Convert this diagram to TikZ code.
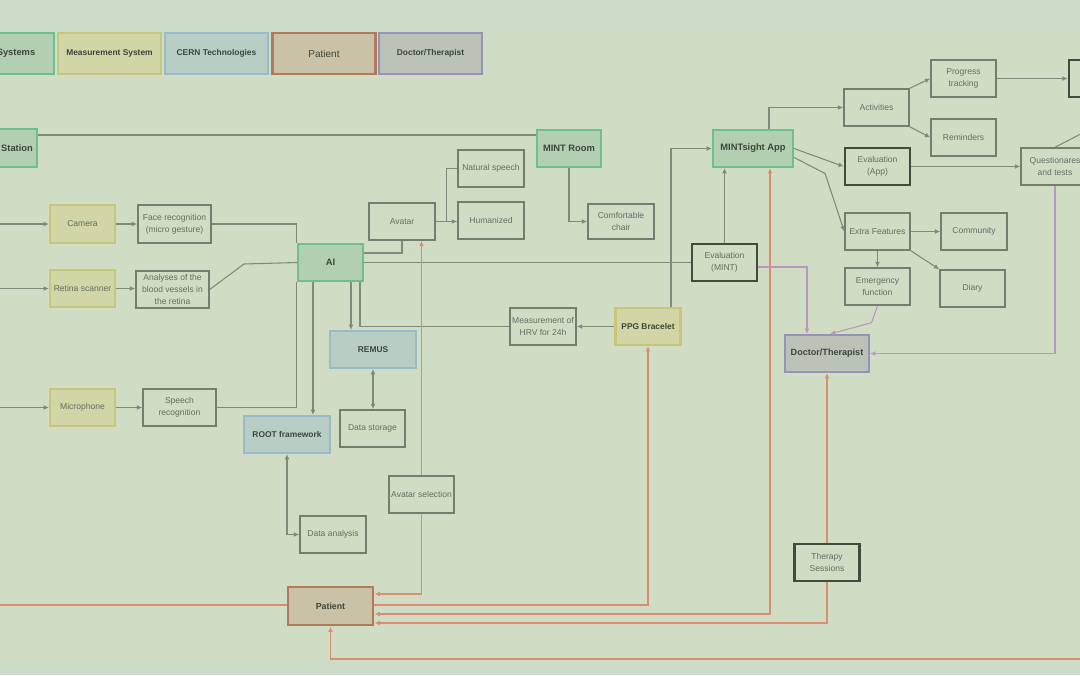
\documentclass[tikz,border=0pt]{standalone}
\usepackage{fontspec}
\setmainfont{Liberation Sans}
\usepackage{xcolor}
\usetikzlibrary{arrows.meta,calc}
\definecolor{bgOuter}{HTML}{CDDCC9}
\definecolor{canvas}{HTML}{D1DCC5}
\definecolor{boxline}{HTML}{727E70}
\definecolor{boxtext}{HTML}{646E62}
\definecolor{darkline}{HTML}{3F4C3E}
\definecolor{darktext}{HTML}{3D463B}
\definecolor{connline}{HTML}{7E8A7B}
\definecolor{coreFill}{HTML}{B2CFB4}
\definecolor{coreLine}{HTML}{6CC08C}
\definecolor{measFill}{HTML}{D2D5A5}
\definecolor{measLine}{HTML}{C8C67A}
\definecolor{cernFill}{HTML}{B8CEC5}
\definecolor{cernLine}{HTML}{98BBCB}
\definecolor{patFill}{HTML}{CAC2A7}
\definecolor{patLine}{HTML}{B27A5B}
\definecolor{docFill}{HTML}{BBC3B8}
\definecolor{docLine}{HTML}{9892B6}
\definecolor{orangeLine}{HTML}{DA8D70}
\definecolor{purpleLine}{HTML}{B897C1}

\begin{document}
\begin{tikzpicture}[
  x=0.75pt, y=-0.75pt,
  box/.style={draw=boxline, line width=1.1pt, minimum width=48.75pt, minimum height=27.75pt,
    inner sep=1pt, align=center, text=boxtext, font=\fontsize{6.4}{9}\selectfont},
  evalbox/.style={box, draw=darkline, line width=1.9pt},
  core/.style={box, fill=coreFill, draw=coreLine, line width=1.6pt, text=darktext,
    font=\bfseries\fontsize{7}{8}\selectfont},
  meas/.style={core, fill=measFill, draw=measLine, font=\fontsize{6.4}{8}\selectfont, text=boxtext},
  measb/.style={meas, font=\bfseries\fontsize{6.3}{8}\selectfont, text=darktext},
  cern/.style={core, fill=cernFill, draw=cernLine, font=\bfseries\fontsize{6.3}{8}\selectfont},
  pat/.style={core, fill=patFill, draw=patLine, font=\bfseries\fontsize{6.6}{8}\selectfont},
  doc/.style={core, fill=docFill, draw=docLine, font=\bfseries\fontsize{6.8}{8}\selectfont},
  conn/.style={draw=connline, line width=0.8pt},
  arr/.style={conn, -{Latex[length=4pt,width=3.6pt]}},
  biarr/.style={conn, {Latex[length=4pt,width=3.6pt]}-{Latex[length=4pt,width=3.6pt]}},
  oline/.style={draw=orangeLine, line width=0.8pt},
  oarr/.style={oline, -{Latex[length=4pt,width=3.6pt]}},
  obiarr/.style={oline, {Latex[length=4pt,width=3.6pt]}-{Latex[length=4pt,width=3.6pt]}},
  parr/.style={draw=purpleLine, line width=0.8pt, -{Latex[length=4pt,width=3.6pt]}}
]
\useasboundingbox (0,0) rectangle (1080,675);
\fill[bgOuter] (0,0) rectangle (1080,675);
\fill[canvas] (0,32) rectangle (1080,662);

% legend
\node[core, minimum width=57pt, minimum height=30.75pt] (legCore) at (16,53.5) {Systems};
\node[meas, minimum width=77.25pt, minimum height=30.75pt, font=\bfseries\fontsize{6.3}{8}\selectfont, text=darktext] (legMeas) at (109.5,53.5) {Measurement System};
\node[cern, minimum width=77.25pt, minimum height=30.75pt] (legCern) at (216.5,53.5) {CERN Technologies};
\node[pat, minimum width=77.25pt, minimum height=30.75pt, font=\fontsize{7.5}{8}\selectfont] (legPat) at (324,53.5) {Patient};
\node[doc, minimum width=77.25pt, minimum height=30.75pt, font=\bfseries\fontsize{6.3}{8}\selectfont] (legDoc) at (430.5,53.5) {Doctor/Therapist};

% sensors
\node[core, minimum width=30pt, minimum height=28.5pt] (station) at (17,148) {Station};
\node[meas, minimum height=28.5pt] (camera) at (82.5,224) {Camera};
\node[box, minimum width=54.75pt, minimum height=28.5pt] (face) at (174.5,224) {Face recognition\\(micro gesture)};
\node[meas] (retina) at (82.5,288.5) {Retina scanner};
\node[box, minimum width=54.75pt] (vessels) at (172.5,289.5) {Analyses of the\\blood vessels in\\the retina};
\node[meas] (micro) at (82.5,407.5) {Microphone};
\node[box, minimum width=54.75pt] (speech) at (179.5,407.5) {Speech\\recognition};
\coordinate (inCam) at (-5,224);
\coordinate (inRet) at (-5,288.5);
\coordinate (inMic) at (-5,407.5);

% AI and CERN parts
\node[core] (ai) at (330.5,262.5) {AI};
\node[cern, minimum width=64.5pt] (root) at (287,434.5) {ROOT framework};
\node[cern, minimum width=64.5pt] (remus) at (373,349.5) {REMUS};
\node[box] (storage) at (372.5,428.5) {Data storage};
\node[box, minimum width=49.5pt] (analysis) at (333,534.5) {Data analysis};
\node[box, minimum width=49.5pt] (avatar) at (402,221.5) {Avatar};
\node[box, minimum width=49.5pt] (natural) at (491,168.5) {Natural speech};
\node[box, minimum width=49.5pt] (human) at (491,220.5) {Humanized};
\node[core, minimum width=48pt] (mintroom) at (569,148.5) {MINT Room};
\node[box, minimum width=49.5pt, minimum height=26.25pt] (chair) at (621,221.5) {Comfortable\\chair};
\node[evalbox] (evalmint) at (724.5,262.5) {Evaluation\\(MINT)};
\node[measb] (ppg) at (648,326.5) {PPG Bracelet};
\node[box, minimum width=49.5pt] (hrv) at (543,326.5) {Measurement of\\HRV for 24h};
\node[box] (avsel) at (421.5,494.5) {Avatar selection};
\node[pat, minimum width=63.75pt, minimum height=28.5pt, line width=2.2pt] (patient) at (330.5,606) {Patient};

% app side
\node[core, minimum width=60pt] (app) at (753,148.5) {MINTsight App};
\node[box] (activities) at (876.5,107.5) {Activities};
\node[box] (progress) at (963.5,78.5) {Progress\\tracking};
\node[box] (reminders) at (963.5,137.5) {Reminders};
\node[evalbox] (target) at (1101.5,78.5) {};
\node[evalbox] (evalapp) at (877.5,166.5) {Evaluation\\(App)};
\node[box, minimum width=51pt] (quest) at (1055,166.5) {Questionares\\and tests};
\node[box] (extra) at (877.5,231.5) {Extra Features};
\node[box, minimum width=49.5pt] (community) at (974,231.5) {Community};
\node[box] (emergency) at (877.5,286.5) {Emergency\\function};
\node[box] (diary) at (972.5,288.5) {Diary};
\node[doc, minimum width=63pt] (doctor) at (827,353.5) {Doctor/Therapist};
\node[evalbox] (therapy) at (827,562.5) {Therapy\\Sessions};
\coordinate (offQuest) at (1100,124);
\coordinate (offLeft) at (-10,605);
\coordinate (offRight) at (1090,659);

% connectors
\draw[conn] ($(station.east)+(0,-13)$) -- ($(mintroom.west)+(0,-13.5)$);
\draw[arr] (inCam) -- (camera); \draw[arr] (inRet) -- (retina); \draw[arr] (inMic) -- (micro);
\draw[arr] (camera) -- (face); \draw[arr] (retina) -- (retina -| vessels.west); \draw[arr] (micro) -- (speech);
\draw[conn] (face.east) -| (ai.north west);
\draw[conn] (speech.east) -| (ai.south west);
\draw[conn] (vessels.east) -- ($(ai.west)+(-53,1.5)$) -- (ai.west);
\draw[arr] ($(ai.south)+(-17.5,0)$) coordinate (aiRoot) -- (aiRoot |- root.north);
\draw[arr] ($(ai.south)+(20.5,0)$) coordinate (aiRemus) -- (aiRemus |- remus.north);
\draw[conn] (hrv.west) -| ($(ai.south)+(29.5,0)$);
\draw[biarr] (remus.south) -- (remus.south |- storage.north);
\draw[biarr] (root.south) |- (analysis.west);
\draw[conn] ($(ai.east)+(0,-9.5)$) -| (avatar.south);
\draw[arr] (avatar.east) -- (avatar.east -| human.west);
\draw[conn] (avatar.east) -- ++(11,0) |- (natural.west);
\draw[arr] (mintroom.south) |- (chair.west);
\draw[conn] (ai.east) -- (evalmint.west);
\draw[arr] (evalmint.north) -- (evalmint.north |- app.south);
\draw[parr] ($(evalmint.east)+(0,4.5)$) -| ($(doctor.north)+(-20,0)$);
\draw[arr] (ppg.west) -- (hrv.east);
\draw[arr] ($(ppg.north)+(23,0)$) |- (app.west);
\draw[arr] ($(app.north)+(16,0)$) |- (activities.west);
\draw[arr] (activities.north east) -- (progress.west);
\draw[arr] (activities.south east) -- (reminders.west);
\draw[arr] (progress.east) -- (target.west);
\draw[arr] (app.east) -- (evalapp.west);
\draw[arr] ($(app.east)+(0,9)$) -- ++(31,16) -- (extra.west);
\draw[arr] (evalapp.east) -- (quest.west);
\draw[conn] (quest.north) -- (offQuest);
\draw[parr] (quest.south) |- (doctor.east);
\draw[arr] (extra.east) -- (community.west);
\draw[arr] (extra.south) -- (emergency.north);
\draw[arr] (extra.south east) -- (diary.north west);
\draw[parr] (emergency.south) -- ++(-6,17) -- ($(doctor.north)+(3,0)$);
\draw[oarr] (therapy.north) -- (doctor.south);
\draw[oarr] (therapy.south) |- ($(patient.east)+(0,17)$);
\draw[obiarr] ($(patient.east)+(0,8)$) -| ($(app.south)+(17,0)$);
\draw[oarr] ($(patient.east)+(0,-1)$) -| (ppg.south);
\draw[oarr] (avsel.north) -- (avsel.north |- avatar.south);
\draw[oarr] (avsel.south) |- ($(patient.east)+(0,-12)$);
\draw[oline] ($(patient.west)+(0,-1)$) -- (offLeft);
\draw[oarr] (offRight) -| (patient.south);
\end{tikzpicture}
\end{document}
